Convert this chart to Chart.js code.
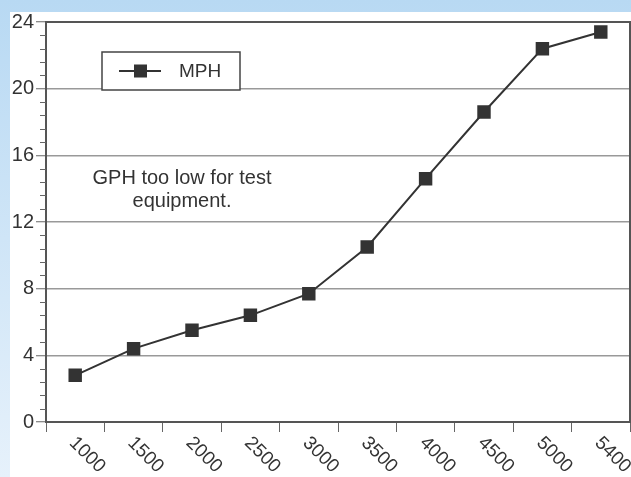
<!DOCTYPE html>
<html>
<head>
<meta charset="utf-8">
<script src="https://cdn.jsdelivr.net/npm/chart.js@4"></script>
<style>
  html, body { margin: 0; padding: 0; }
  body {
    width: 631px; height: 477px; overflow: hidden;
    background: linear-gradient(to bottom, #b8d9f3, #e6f1fb);
  }
  #wrap {
    position: absolute; left: 10px; top: 12px;
    width: 621px; height: 465px; background: #fff;
  }
</style>
</head>
<body>
<div id="wrap"><canvas id="mphChart" width="621" height="465"></canvas></div>
<script>
// RPM categories along the bottom
const rpmLabels = ['1000', '1500', '2000', '2500', '3000', '3500', '4000', '4500', '5000', '5400'];
// Speed at each RPM
const mphValues = [2.8, 4.4, 5.5, 6.4, 7.7, 10.5, 14.6, 18.6, 22.4, 23.4];
// Y axis
const yTicks = [0, 4, 8, 12, 16, 20, 24];
const yMinorStep = 0.8;
const seriesName = 'MPH';
const noteLines = ['GPH too low for test', 'equipment.'];

const FONT = '"Liberation Sans", Arial, sans-serif';
const INK = '#333';

// minor ticks on y, frame, rotated x labels, legend box and note
const decorPlugin = {
  id: 'decor',
  afterDraw(chart) {
    const ctx = chart.ctx;
    const area = chart.chartArea;
    const x = chart.scales.x;
    const y = chart.scales.y;
    ctx.save();

    // minor ticks on the y axis
    ctx.strokeStyle = '#666';
    ctx.lineWidth = 1;
    for (let v = 0; v <= 24.001; v += yMinorStep) {
      if (Math.abs(v / 4 - Math.round(v / 4)) < 0.01) continue;
      const py = Math.round(y.getPixelForValue(v)) + 0.5;
      ctx.beginPath();
      ctx.moveTo(area.left - 6, py);
      ctx.lineTo(area.left, py);
      ctx.stroke();
    }

    // top and right frame
    ctx.strokeStyle = '#555';
    ctx.lineWidth = 2;
    ctx.beginPath();
    ctx.moveTo(area.left, area.top);
    ctx.lineTo(area.right, area.top);
    ctx.lineTo(area.right, area.bottom);
    ctx.stroke();

    // rotated x labels
    ctx.fillStyle = INK;
    ctx.font = '19px ' + FONT;
    ctx.textAlign = 'left';
    ctx.textBaseline = 'middle';
    rpmLabels.forEach((lab, i) => {
      const px = x.getPixelForValue(i);
      ctx.save();
      ctx.translate(px - 3, area.bottom + 18);
      ctx.rotate(Math.PI / 4);
      ctx.fillText(lab, 0, 0);
      ctx.restore();
    });

    // legend box
    const lx = 92, ly = 40, lw = 138, lh = 38;
    ctx.fillStyle = '#fff';
    ctx.fillRect(lx, ly, lw, lh);
    ctx.strokeStyle = '#444';
    ctx.lineWidth = 1.5;
    ctx.strokeRect(lx, ly, lw, lh);
    const my = ly + lh / 2;
    ctx.strokeStyle = INK;
    ctx.lineWidth = 2;
    ctx.beginPath();
    ctx.moveTo(lx + 17, my);
    ctx.lineTo(lx + 59, my);
    ctx.stroke();
    ctx.fillStyle = INK;
    ctx.fillRect(lx + 32, my - 6.5, 13, 13);
    ctx.font = '19px ' + FONT;
    ctx.textBaseline = 'middle';
    ctx.fillText(seriesName, lx + 77, my + 1);

    // note text
    ctx.textAlign = 'center';
    ctx.font = '20px ' + FONT;
    noteLines.forEach((t, i) => {
      ctx.fillText(t, 172, 166 + i * 23);
    });

    ctx.restore();
  }
};

new Chart(document.getElementById('mphChart'), {
  type: 'line',
  data: {
    labels: rpmLabels,
    datasets: [{
      label: seriesName,
      data: mphValues,
      borderColor: INK,
      backgroundColor: INK,
      borderWidth: 2,
      pointStyle: 'rect',
      pointRadius: 9.5,
      pointHoverRadius: 9.5,
      pointBorderWidth: 0,
      tension: 0
    }]
  },
  options: {
    responsive: false,
    animation: false,
    layout: { autoPadding: false, padding: { top: 10, right: 1, left: 0, bottom: 0 } },
    plugins: {
      legend: { display: false },
      tooltip: { enabled: false }
    },
    scales: {
      x: {
        offset: true,
        grid: {
          offset: true,
          drawOnChartArea: false,
          tickLength: 10,
          color: '#666',
          lineWidth: 1
        },
        border: { color: '#555', width: 2 },
        ticks: { display: false },
        afterFit(scale) { scale.height = 55; }
      },
      y: {
        min: 0,
        max: 24,
        afterBuildTicks(scale) {
          scale.ticks = yTicks.map(v => ({ value: v }));
        },
        grid: {
          color: '#999',
          lineWidth: 1.5,
          tickLength: 10,
          tickColor: '#666',
          tickWidth: 1
        },
        border: { color: '#555', width: 2 },
        ticks: {
          color: INK,
          padding: 2,
          font: { family: FONT, size: 20 }
        },
        afterFit(scale) {
          scale.width = 36;
          scale.paddingTop = 0;
          scale.paddingBottom = 0;
        }
      }
    }
  },
  plugins: [decorPlugin]
});
</script>
</body>
</html>
